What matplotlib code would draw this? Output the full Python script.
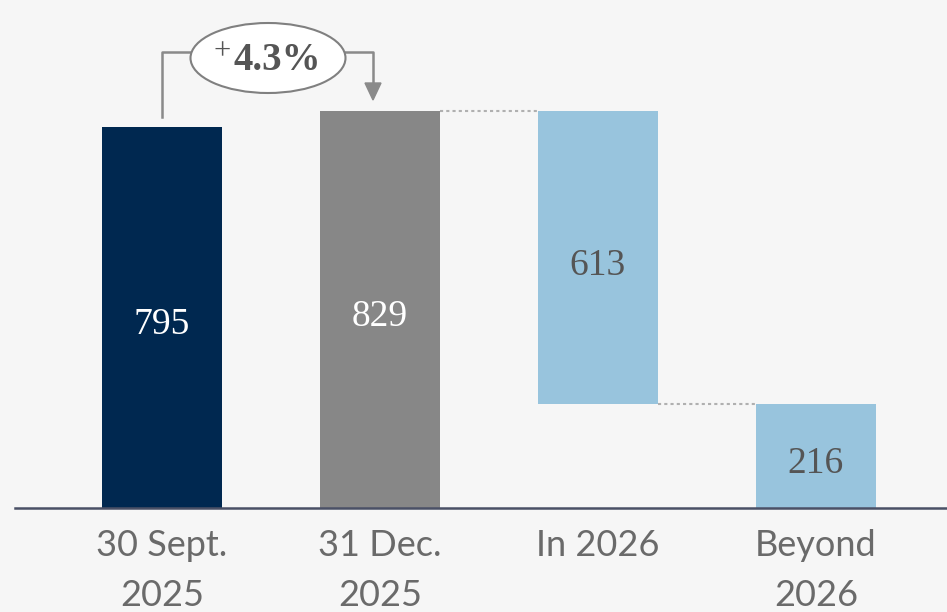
import matplotlib.pyplot as plt
from matplotlib.patches import Ellipse

# data
categories = ['30 Sept.\n2025', '31 Dec.\n2025', 'In 2026', 'Beyond\n2026']
tops = [795, 829, 829, 216]
bottoms = [0, 0, 216, 0]
labels = ['795', '829', '613', '216']
colors = ['#002850', '#878787', '#98c4dd', '#98c4dd']
label_colors = ['white', 'white', '#555555', '#555555']
growth = '4.3%'

bg = '#f6f6f6'
fig = plt.figure(figsize=(9.47, 6.12), dpi=100, facecolor=bg)
ax = fig.add_axes([15 / 947, 1 - 508 / 612, 932 / 947, 508 / 612])
ax.set_facecolor(bg)

x = range(len(categories))
heights = [t - b for t, b in zip(tops, bottoms)]
ax.bar(x, heights, bottom=bottoms, width=0.55, color=colors, zorder=2)

ax.set_xlim(-0.674, 3.601)
ax.set_ylim(0, 1060)

# value labels (sit a little low, like old-style figures)
for i in x:
    ax.text(i, bottoms[i] + heights[i] / 2 - 16, labels[i], ha='center', va='center',
            fontsize=27, color=label_colors[i], family='Liberation Serif')

# dotted connectors
ax.plot([1 + 0.275, 2 - 0.275], [tops[1], tops[1]], ls=(0, (1.5, 1.5)), color='#b0b0b0', lw=1.5)
ax.plot([2 + 0.275, 3 - 0.275], [bottoms[2], bottoms[2]], ls=(0, (1.5, 1.5)), color='#b0b0b0', lw=1.5)

# growth annotation
ecx, ecy = 268, 58
ell = Ellipse((ecx / 947, 1 - ecy / 612), 155 / 947, 70 / 612, transform=fig.transFigure,
              facecolor='white', edgecolor='#808080', lw=1.5, zorder=5)
fig.patches.append(ell)
fig.text(277 / 947, 1 - (ecy + 2) / 612, growth, ha='center', va='center', fontsize=28,
         color='#555555', family='Liberation Serif', fontweight='bold', zorder=6)
fig.text(222 / 947, 1 - 52 / 612, '+', ha='center', va='center', fontsize=22,
         color='#555555', family='Liberation Serif', zorder=6)
line_kw = dict(color='#8a8a8a', lw=1.8, transform=fig.transFigure)
fig.lines.append(plt.Line2D([162 / 947, 162 / 947, 190 / 947],
                            [1 - 117 / 612, 1 - 52 / 612, 1 - 52 / 612], **line_kw))
fig.lines.append(plt.Line2D([345 / 947, 373 / 947, 373 / 947],
                            [1 - 52 / 612, 1 - 52 / 612, 1 - 85 / 612], **line_kw))
fig.patches.append(plt.Polygon([[365 / 947, 1 - 83 / 612], [381 / 947, 1 - 83 / 612],
                                [373 / 947, 1 - 100 / 612]], closed=True,
                               transform=fig.transFigure, color='#8a8a8a'))

for s in ['top', 'right', 'left']:
    ax.spines[s].set_visible(False)
ax.spines['bottom'].set_color('#4a5066')
ax.spines['bottom'].set_linewidth(1.8)
ax.set_yticks([])
ax.set_xticks(list(x))
ax.set_xticklabels(categories, fontsize=26, color='#6a6a6a', family='Lato',
                   fontweight='normal', linespacing=1.62)
ax.tick_params(axis='x', length=0, pad=15)

fig.savefig('out.png', dpi=100, facecolor=bg)
